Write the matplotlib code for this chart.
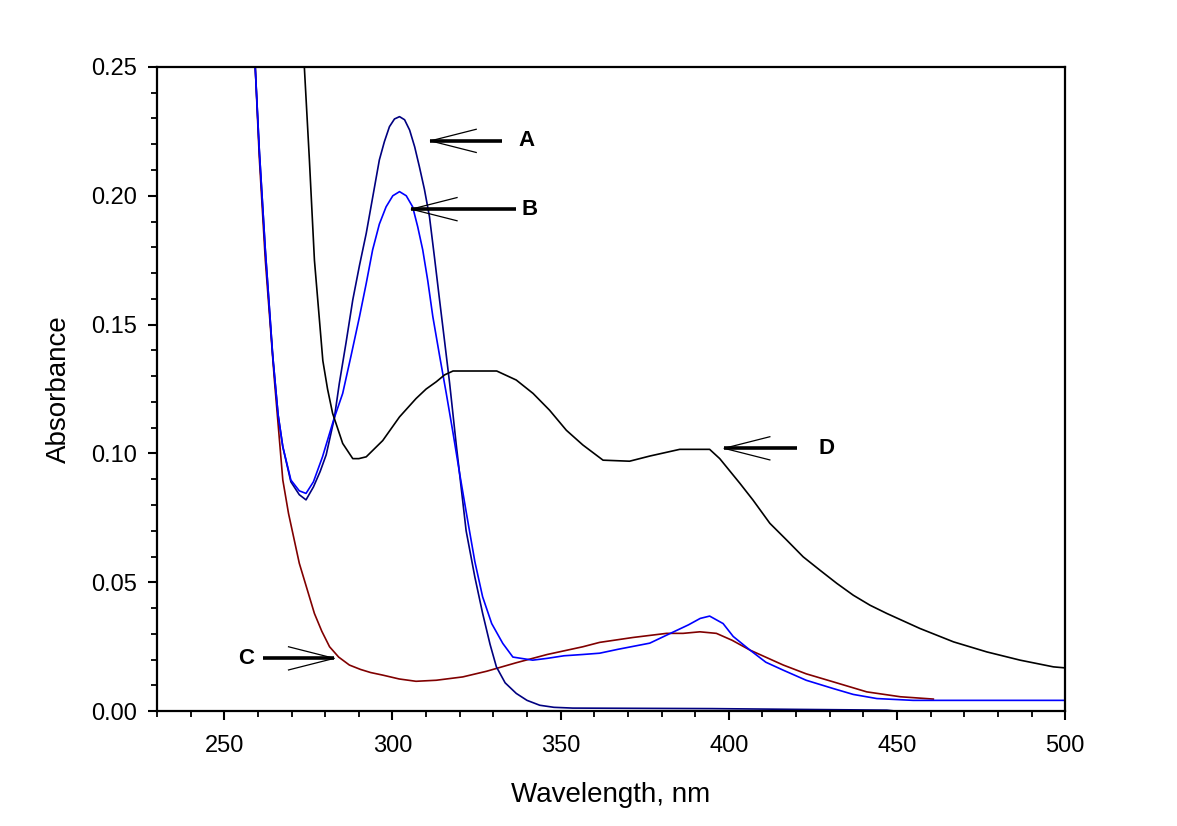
import numpy as np
import matplotlib
matplotlib.use("Agg")
import matplotlib.pyplot as plt

plt.rcParams['font.family'] = ['Liberation Sans', 'DejaVu Sans']

# curve A (navy)
wl_a = [258.0, 259.2, 260.4, 262.2, 264.4, 266.0, 267.4, 269.8, 272.3, 274.3, 276.5, 278.5,
        280.3, 282.7, 284.2, 286.2, 288.2, 290.2, 292.2, 294.2, 296.1, 297.6, 299.1, 300.6,
        302.1, 303.6, 305.1, 306.6, 308.0, 309.5, 311.0, 312.5, 314.0, 315.5, 317.0, 319.0,
        321.9, 324.5, 326.8, 329.0, 330.9, 333.5, 336.8, 340.0, 343.8, 348.0, 353.6, 395.0,
        420.0, 447.0, 450.0, 500.0]
abs_a = [0.275, 0.250, 0.218, 0.179, 0.138, 0.115, 0.1026, 0.0890, 0.0840, 0.0820, 0.0870, 0.0930,
         0.0995, 0.1136, 0.1272, 0.1430, 0.1596, 0.1730, 0.1854, 0.2000, 0.2139, 0.2210, 0.2268, 0.2298,
         0.2307, 0.2295, 0.2255, 0.2190, 0.2113, 0.2025, 0.1919, 0.1760, 0.1596, 0.1435, 0.1272, 0.1030,
         0.0700, 0.0520, 0.0380, 0.0260, 0.0172, 0.0110, 0.0069, 0.0042, 0.0023, 0.0015, 0.0012, 0.0010,
         0.0007, 0.0004, 0.0, 0.0]

# curve B (blue)
wl_b = [258.0, 259.2, 260.4, 262.2, 264.4, 266.0, 267.4, 269.8, 272.3, 274.3, 276.5, 279.2,
        282.5, 285.2, 287.7, 290.2, 292.2, 294.1, 296.1, 298.1, 300.1, 302.1, 304.1, 306.0,
        307.5, 309.0, 310.5, 312.0, 314.0, 316.0, 318.0, 320.0, 322.0, 324.5, 326.8, 329.5,
        332.8, 335.8, 341.7, 346.0, 351.0, 356.6, 361.6, 367.0, 376.5, 381.5, 388.0, 391.5,
        394.3, 398.3, 401.3, 406.3, 411.0, 416.2, 423.0, 431.0, 437.0, 444.0, 454.8, 500.0]
abs_b = [0.275, 0.250, 0.218, 0.179, 0.138, 0.115, 0.1026, 0.0897, 0.0855, 0.0845, 0.0890, 0.0987,
         0.1130, 0.1233, 0.1380, 0.1531, 0.1660, 0.1790, 0.1890, 0.1957, 0.2000, 0.2016, 0.2000, 0.1957,
         0.1880, 0.1790, 0.1670, 0.1531, 0.1380, 0.1233, 0.1080, 0.0920, 0.0767, 0.0580, 0.0444, 0.0340,
         0.0263, 0.0210, 0.0198, 0.0205, 0.0215, 0.0220, 0.0225, 0.0240, 0.0264, 0.0295, 0.0335, 0.0360,
         0.0369, 0.0340, 0.0290, 0.0237, 0.0190, 0.0159, 0.0120, 0.0088, 0.0065, 0.0049, 0.0042, 0.0042]

# curve C (maroon)
wl_c = [258.0, 259.2, 260.4, 262.2, 264.9, 267.4, 269.1, 272.3, 276.8, 279.0, 281.3, 284.0,
        287.2, 290.5, 293.5, 297.1, 302.0, 307.0, 313.0, 320.9, 328.0, 336.8, 346.0, 356.6,
        361.6, 371.5, 381.5, 386.4, 391.4, 396.3, 401.0, 406.3, 416.2, 423.0, 431.0, 441.0,
        451.0, 460.8]
abs_c = [0.275, 0.250, 0.215, 0.175, 0.1285, 0.0897, 0.0767, 0.0574, 0.0379, 0.0310, 0.0250, 0.0210,
         0.0179, 0.0162, 0.0150, 0.0140, 0.0125, 0.0116, 0.0120, 0.0133, 0.0155, 0.0188, 0.0220, 0.0250,
         0.0267, 0.0286, 0.0302, 0.0302, 0.0308, 0.0302, 0.0275, 0.0237, 0.0179, 0.0145, 0.0114, 0.0075,
         0.0056, 0.0047]

# curve D (black)
wl_d = [272.5, 273.8, 275.3, 276.8, 279.3, 280.7, 282.2, 285.2, 288.2, 290.0, 292.2, 297.1,
        302.1, 307.0, 310.0, 313.0, 315.5, 318.0, 331.0, 336.8, 341.8, 346.7, 351.7, 356.6,
        362.6, 370.5, 376.5, 385.4, 394.3, 397.3, 403.3, 407.2, 412.2, 417.2, 422.1, 427.1,
        432.1, 437.0, 442.0, 447.0, 456.8, 466.8, 476.7, 486.6, 496.5, 500.0]
abs_d = [0.275, 0.250, 0.214, 0.175, 0.136, 0.125, 0.1156, 0.1039, 0.0980, 0.0980, 0.0987, 0.1050,
         0.1142, 0.1213, 0.1250, 0.1278, 0.1305, 0.1320, 0.1320, 0.1285, 0.1233, 0.1168, 0.1090, 0.1033,
         0.0974, 0.0970, 0.0990, 0.1016, 0.1016, 0.0980, 0.0884, 0.0819, 0.0729, 0.0664, 0.0599, 0.0547,
         0.0496, 0.0450, 0.0411, 0.0379, 0.0321, 0.0269, 0.0230, 0.0198, 0.0172, 0.0168]

# annotation arrows: label, arrow tip (wl, abs), shaft end wl, text wl, pointing direction
labels = ['A', 'B', 'C', 'D']
tips = [(311.3, 0.2213), (305.6, 0.1948), (282.7, 0.0205), (398.6, 0.1020)]
tails = [332.7, 336.8, 261.6, 420.3]
text_x = [339.9, 340.8, 256.6, 428.9]
sides = [1, 1, -1, 1]

fig = plt.figure(figsize=(11.77, 8.26), dpi=100)
ax = fig.add_axes([0.1334, 0.139, 0.7716, 0.780])

ax.plot(wl_c, abs_c, color='#800000', lw=1.2)
ax.plot(wl_a, abs_a, color='#000080', lw=1.2)
ax.plot(wl_b, abs_b, color='#0000FF', lw=1.2)
ax.plot(wl_d, abs_d, color='black', lw=1.2)

for lab, (tx, ty), tail, lx, sd in zip(labels, tips, tails, text_x, sides):
    ax.plot([tx, tail], [ty, ty], color='black', lw=2.6, solid_capstyle='butt')
    bx = tx + sd * 13.6
    ax.plot([bx, tx, bx], [ty + 0.0045, ty, ty - 0.0045], color='black', lw=0.9)
    ax.text(lx, ty, lab, fontsize=16, fontweight='bold', ha='center', va='center')

ax.set_xlim(230, 500)
ax.set_ylim(0, 0.25)
ax.set_xticks([250, 300, 350, 400, 450, 500])
ax.set_xticks(np.arange(230, 501, 10), minor=True)
ax.set_yticks([0.0, 0.05, 0.10, 0.15, 0.20, 0.25])
ax.set_yticks(np.arange(0, 0.2501, 0.01), minor=True)
ax.set_yticklabels(['0.00', '0.05', '0.10', '0.15', '0.20', '0.25'])

ax.tick_params(which='major', direction='out', length=6.5, width=1.5, labelsize=17, pad=8)
ax.tick_params(which='minor', direction='out', length=4.5, width=1.3)
ax.tick_params(axis='x', which='major', pad=11)
for s in ax.spines.values():
    s.set_linewidth(1.6)

ax.set_xlabel('Wavelength, nm', fontsize=20, labelpad=18)
ax.set_ylabel('Absorbance', fontsize=20, labelpad=14)

fig.savefig('out.png', dpi=100)
